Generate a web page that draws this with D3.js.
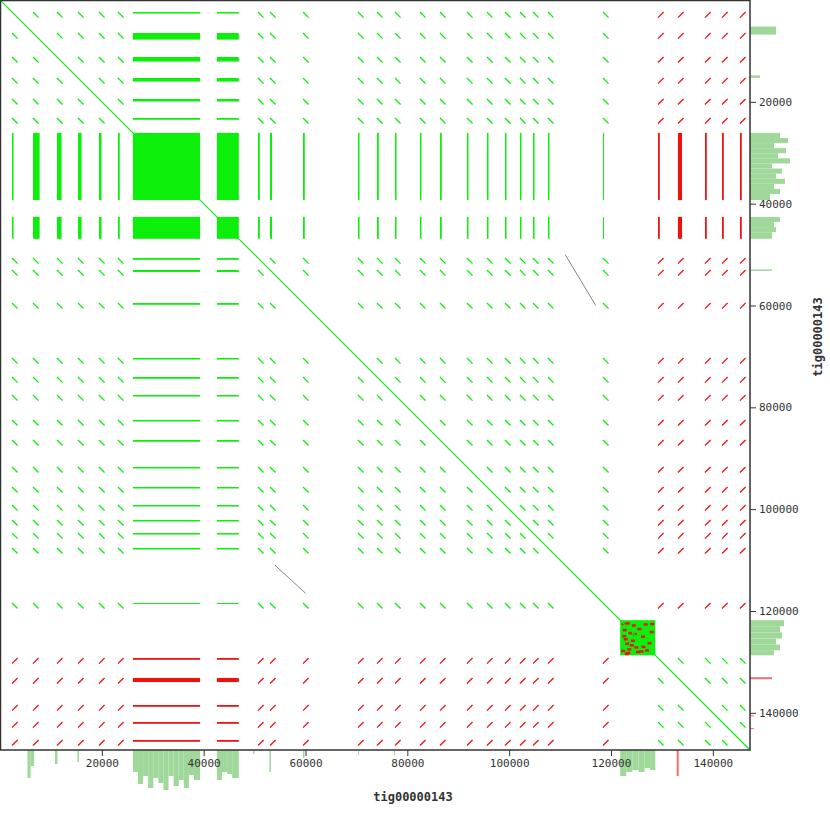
<!DOCTYPE html>
<html><head><meta charset="utf-8">
<script src="https://cdn.jsdelivr.net/npm/d3@7"></script>
<style>body{margin:0;background:#fff}</style>
</head><body>
<svg id="chart" width="830" height="830"></svg>
<script>
// repeat loci along tig00000143 (bp), with hit length (bp)
var lociFwd = [2360, 6480, 11190, 15320, 19440, 23170, 50670, 53030, 59510, 70310, 74040, 77580, 82480, 86410, 91710, 95640, 99180, 102120, 104680, 107620, 118420];
var lociFwdLen = [300, 1300, 900, 700, 500, 350, 350, 400, 350, 300, 350, 300, 300, 350, 300, 300, 300, 300, 300, 300, 150];
var lociRev = [129230, 133150, 138460, 141800, 145330];
var lociRevLen = [350, 800, 350, 350, 350];
// tandem blocks [start, end]
var blocks = [[26100, 39300], [42600, 46900]];
var mixBlock = [121800, 128700];
var mixSpecks = [[122300, 123500], [124100, 122600], [125900, 124800], [123200, 127300], [127200, 126100], [122800, 126200], [126400, 122400], [124900, 127800], [122200, 124700], [127600, 123900], [123900, 125600], [125600, 127700],
  [122100, 122300], [122900, 122200], [123400, 124100], [122500, 125300], [124600, 126900], [123000, 128000], [122000, 127600], [126700, 127500], [125200, 123300], [127700, 122300], [126000, 126800], [124300, 124300], [122700, 128200], [123700, 126500]];
var grayDiag = [[[111000, 50000], [117000, 60000]], [[54000, 111000], [60000, 116500]]];
// margin coverage bins [start, end, value]
var covGreenX = [[5400,6000,28],[6000,6700,16],[10800,11300,14],[15200,15500,12],[26100,27100,22],[27100,28100,34],[28100,29100,26],[29100,30100,38],[30100,31100,28],[31100,32100,33],[32100,33100,40],[33100,34100,26],[34100,35100,36],[35100,36100,30],[36100,37100,38],[37100,38100,25],[38100,39300,30],[42600,43600,30],[43600,44600,22],[44600,45600,24],[45600,46900,28],[49700,50000,4],[52900,53200,22],[59500,59800,8],[70300,70500,5],[77400,77600,5],[121800,123000,26],[123000,124200,22],[124200,125400,20],[125400,126600,22],[126600,127700,18],[127700,128700,20]];
var covRedX = [[132900, 133300, 26]];
var covGreenY = [[5200,6800,26],[14800,15300,10],[26100,27100,30],[27100,28100,38],[28100,29100,24],[29100,30100,36],[30100,31100,28],[31100,32100,40],[32100,33100,22],[33100,34100,32],[34100,35100,26],[35100,36100,35],[36100,37100,24],[37100,38100,30],[38100,39300,20],[42600,43600,30],[43600,44600,24],[44600,45600,26],[45600,46900,22],[52900,53200,22],[121800,123000,34],[123000,124200,30],[124200,125400,32],[125400,126600,26],[126600,127700,30],[127700,128700,24]];
var covRedY = [[133000,133400,22],[140500,140700,4],[143000,143200,4]];
var ticks = [20000, 40000, 60000, 80000, 100000, 120000, 140000];

var svg = d3.select("#chart");
var size = 750, maxBp = 147300;
var x = d3.scaleLinear().domain([0, maxBp]).range([0, size]);
var y = d3.scaleLinear().domain([0, maxBp]).range([0, size]);
var cov = d3.scaleLinear().domain([0, 40]).range([0, 40]);
var green = "#0bef0b", red = "#ee1111";

var g = svg.append("g");

// locus list with orientation
var loci = lociFwd.map(function(p, i) { return {p: p, len: lociFwdLen[i], rev: false}; })
  .concat(lociRev.map(function(p, i) { return {p: p, len: lociRevLen[i], rev: true}; }));

// block x block
blocks.forEach(function(a) {
  blocks.forEach(function(b) {
    g.append("rect").attr("x", x(a[0])).attr("y", y(b[0]))
      .attr("width", x(a[1]) - x(a[0])).attr("height", y(b[1]) - y(b[0])).attr("fill", green);
  });
});
// block x locus bands
blocks.forEach(function(b) {
  loci.forEach(function(l) {
    var c = l.rev ? red : green;
    var th = Math.max(1, x(l.len) - x(0));
    g.append("rect").attr("x", x(b[0])).attr("y", y(l.p)).attr("width", x(b[1]) - x(b[0])).attr("height", th).attr("fill", c);
    g.append("rect").attr("y", y(b[0])).attr("x", x(l.p)).attr("height", y(b[1]) - y(b[0])).attr("width", th).attr("fill", c);
  });
});
// locus x locus short hits
loci.forEach(function(a) {
  loci.forEach(function(b) {
    if (a === b) return;
    var same = a.rev === b.rev, d = 1100;
    g.append("line")
      .attr("x1", x(a.p)).attr("x2", x(a.p + d))
      .attr("y1", y(same ? b.p : b.p + d)).attr("y2", y(same ? b.p + d : b.p))
      .attr("stroke", same ? green : red).attr("stroke-width", 1.3);
  });
});
// mixed block
g.append("rect").attr("x", x(mixBlock[0])).attr("y", y(mixBlock[0]))
  .attr("width", x(mixBlock[1]) - x(mixBlock[0])).attr("height", y(mixBlock[1]) - y(mixBlock[0])).attr("fill", green);
mixSpecks.forEach(function(s) {
  g.append("rect").attr("x", x(s[0])).attr("y", y(s[1])).attr("width", 4).attr("height", 2.5).attr("fill", red);
});
grayDiag.forEach(function(s) {
  g.append("line").attr("x1", x(s[0][0])).attr("y1", y(s[0][1])).attr("x2", x(s[1][0])).attr("y2", y(s[1][1]))
    .attr("stroke", "#666").attr("stroke-width", 0.8);
});
// main diagonal
g.append("line").attr("x1", x(0)).attr("y1", y(0)).attr("x2", x(maxBp)).attr("y2", y(maxBp))
  .attr("stroke", green).attr("stroke-width", 1.2);

// margin coverage
function barsX(data, col) {
  svg.selectAll(null).data(data).enter().append("rect")
    .attr("x", function(d) { return x(d[0]); }).attr("width", function(d) { return x(d[1]) - x(d[0]); })
    .attr("y", size).attr("height", function(d) { return cov(d[2]); }).attr("fill", col);
}
function barsY(data, col) {
  svg.selectAll(null).data(data).enter().append("rect")
    .attr("y", function(d) { return y(d[0]); }).attr("height", function(d) { return y(d[1]) - y(d[0]); })
    .attr("x", size).attr("width", function(d) { return cov(d[2]); }).attr("fill", col);
}
barsX(covGreenX, "#9fd89a"); barsX(covRedX, "#f07070");
barsY(covGreenY, "#9fd89a"); barsY(covRedY, "#f07070");

// frame and axes
svg.append("rect").attr("x", 0.5).attr("y", 0.5).attr("width", size - 0.5).attr("height", size - 0.5)
  .attr("fill", "none").attr("stroke", "#333").attr("stroke-width", 1.5);
var font = "DejaVu Sans Mono, monospace";
var xa = svg.append("g").attr("transform", "translate(0," + size + ")")
  .call(d3.axisBottom(x).tickValues(ticks).tickSize(6).tickFormat(d3.format("d")));
var ya = svg.append("g").attr("transform", "translate(" + size + ",0)")
  .call(d3.axisRight(y).tickValues(ticks).tickSize(6).tickFormat(d3.format("d")));
[xa, ya].forEach(function(a) {
  a.select(".domain").remove();
  a.selectAll("line").attr("stroke", "#333");
  a.selectAll("text").attr("font-family", font).attr("font-size", 11).attr("fill", "#333");
});
svg.append("text").attr("x", 413).attr("y", 801).attr("text-anchor", "middle")
  .attr("font-family", font).attr("font-size", 12).attr("font-weight", "bold").attr("fill", "#333").text("tig00000143");
svg.append("text").attr("transform", "translate(822,337) rotate(-90)").attr("text-anchor", "middle")
  .attr("font-family", font).attr("font-size", 12).attr("font-weight", "bold").attr("fill", "#333").text("tig00000143");
</script>
</body></html>
